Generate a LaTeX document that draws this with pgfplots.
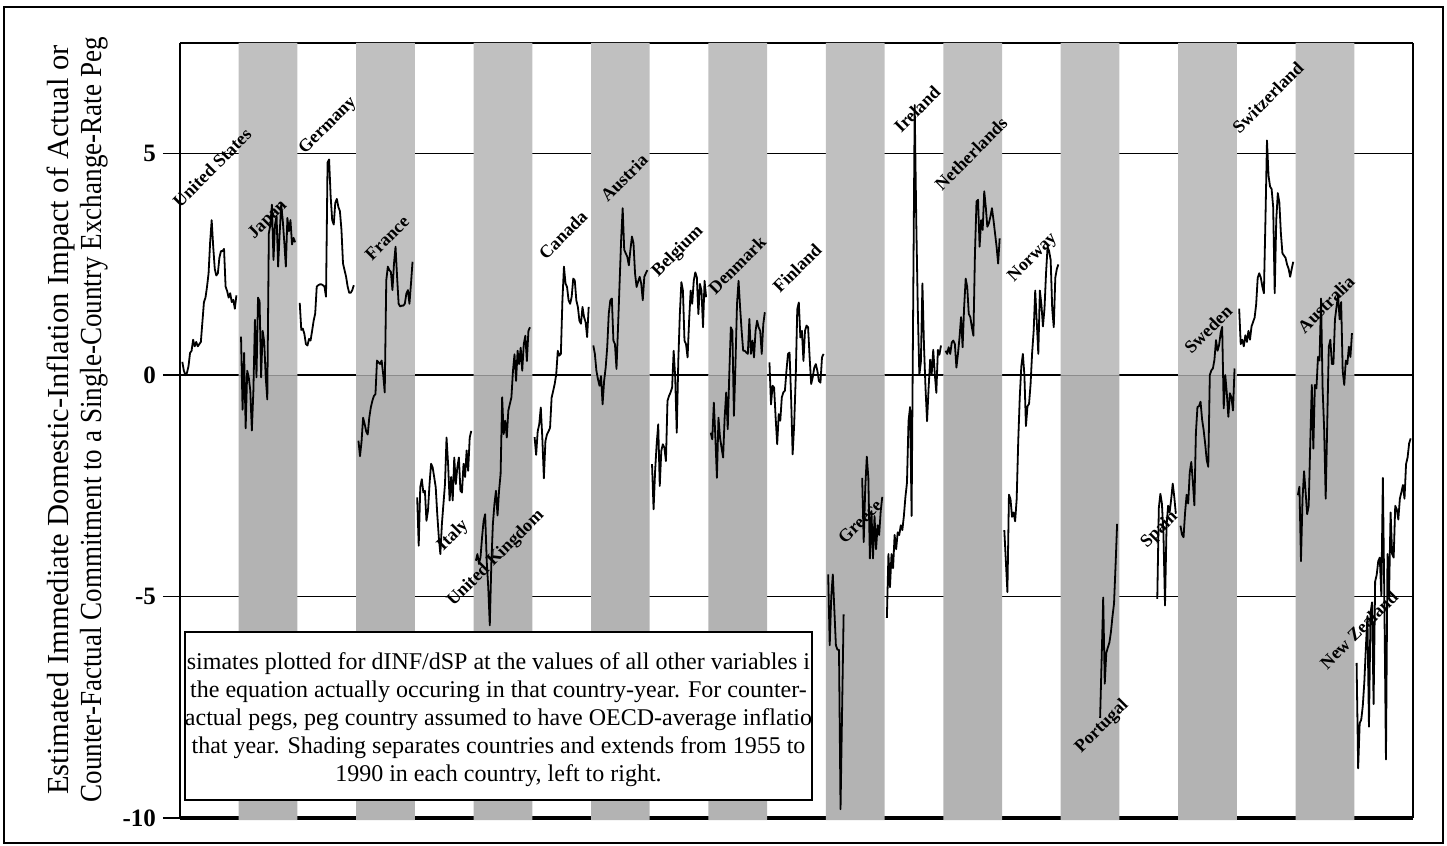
\documentclass[border=0pt]{standalone}
\usepackage{pgfplots}
\pgfplotsset{compat=1.18}
\usepackage{pgfplotstable}
\usepackage{fontspec}
\setmainfont{Liberation Serif}
\definecolor{stripeU}{RGB}{192,192,192}
\definecolor{stripeL}{RGB}{179,179,179}
\definecolor{zline}{RGB}{140,140,140}
\tikzset{lab/.style={rotate=45, font=\bfseries\fontsize{9}{9}\selectfont, inner sep=0pt}}

\pgfplotstableread{
year US JP DE FR IT UK CA AT BE DK FI GR IE NL NO PT ES SE CH AU NZ
1955 0.3 0.87 1.63 -1.48 -2.76 -4.19 -1.4 0.67 -2.01 -1.3 0.29 -4.5 -5.48 0.55 -3.5 nan nan -3.4 1.5 -2.71 -6.5
1956 0.1 -0.78 1.02 -1.83 -3.85 -4.04 -1.8 0.48 -3.03 -1.45 -0.66 -6.1 -4.04 0.48 -4.2 nan nan -3.6 0.7 -2.52 -8.88
1957 0.0 0.5 1.05 -1.5 -2.53 -4.26 -1.27 0.1 -2.16 -0.62 -0.24 -5.0 -4.79 0.63 -4.9 nan nan -3.66 0.8 -4.2 -7.86
1958 0.05 -1.2 0.93 -0.96 -2.35 -4.11 -1.11 -0.09 -1.56 -1.41 -0.28 -4.5 -4.04 0.48 -2.7 nan nan -3.1 0.65 -2.79 -7.78
1959 0.2 0.1 0.7 -1.1 -2.65 -3.66 -0.73 -0.24 -1.11 -2.32 -0.96 -5.3 -4.36 0.74 -2.8 nan nan -2.7 0.9 -2.17 -7.47
1960 0.5 -0.05 0.67 -1.27 -2.61 -3.29 -1.42 -0.02 -2.5 -0.96 -1.56 -6.1 -3.61 0.78 -3.2 nan nan -2.9 0.75 -2.64 -6.93
1961 0.55 -0.35 0.82 -1.34 -3.29 -3.14 -2.33 -0.66 -1.71 -1.41 -0.88 -6.2 -3.93 0.7 -3.1 nan nan -2.2 1.0 -3.14 -6.15
1962 0.8 -1.25 0.78 -0.96 -3.06 -4.19 -1.49 -0.13 -1.56 -1.64 -1.03 -6.2 -3.55 0.17 -3.3 nan nan -1.96 0.8 -2.95 -5.44
1963 0.65 -0.35 1.0 -0.73 -2.46 -4.79 -1.34 0.17 -1.64 -1.86 -0.5 -9.8 -3.61 0.48 -2.8 nan nan -2.4 1.1 -1.54 -7.94
1964 0.75 1.25 1.23 -0.58 -2.0 -5.65 -1.27 0.63 -1.94 -0.96 -0.39 -7.6 -3.39 0.85 -1.5 nan nan -2.94 1.2 -0.22 -5.37
1965 0.65 -0.05 1.39 -0.47 -2.08 -4.26 -1.19 1.39 -0.58 -0.39 -0.35 -5.4 -3.5 1.31 -0.5 nan nan -1.3 1.3 -1.66 -5.13
1966 0.7 1.75 2.0 -0.43 -2.3 -3.36 -0.51 1.69 -0.47 -1.22 0.1 nan -3.18 0.63 0.2 nan nan -0.72 1.6 -0.22 -7.43
1967 0.75 1.67 2.03 0.33 -2.53 -2.91 -0.36 1.73 -0.39 0.02 0.48 nan -2.75 1.54 0.48 nan nan -0.7 2.2 -0.3 -4.66
1968 1.2 -0.05 2.05 0.29 -3.14 -2.61 -0.2 0.78 -0.28 1.08 0.51 nan -2.43 2.18 0.0 nan nan -0.6 2.3 0.41 -4.51
1969 1.65 1.0 2.05 0.25 -3.66 -3.17 0.02 0.7 0.55 1.0 -0.5 nan -1.04 1.99 -1.15 nan nan -1.0 2.2 0.33 -4.2
1970 1.75 0.75 2.03 0.33 -4.04 -2.61 0.55 0.14 -0.05 -0.92 -1.79 nan -0.72 1.38 -0.7 nan nan -1.24 2.0 1.73 -4.12
1971 2.0 -0.05 2.0 0.02 -3.36 -2.23 0.44 1.08 -1.3 0.25 -1.11 nan -3.18 1.31 -0.65 nan nan -1.55 1.85 -0.3 -4.98
1972 2.3 -0.55 1.77 -0.39 -2.91 -0.5 0.48 2.07 0.32 1.61 -0.05 nan 1.5 1.08 -0.2 nan nan -1.92 3.5 -1.23 -2.32
1973 3.0 3.2 4.8 2.14 -2.46 -1.33 1.69 3.05 1.38 2.13 1.49 nan 6.1 0.89 0.5 nan nan -2.07 5.3 -2.79 -5.21
1974 3.5 3.4 4.87 2.45 -1.41 -1.03 2.45 3.77 2.1 1.53 1.64 nan 3.5 2.75 1.0 nan nan 0.0 4.5 -1.08 -8.68
1975 2.9 3.85 4.04 2.37 -2.0 -1.41 2.07 2.83 1.91 1.0 0.85 nan 1.5 3.92 1.91 nan nan 0.11 4.26 0.64 -4.04
1976 2.4 2.6 3.5 2.33 -2.83 -0.8 1.99 2.75 0.78 0.55 1.0 nan 0.0 3.96 1.2 nan nan 0.15 4.2 0.8 -4.98
1977 2.25 3.4 3.4 1.92 -2.3 -0.65 1.69 2.67 0.7 0.55 0.32 -2.32 0.3 2.9 0.48 nan nan 0.35 3.8 0.25 -3.1
1978 2.3 3.6 3.89 2.52 -2.83 -0.5 1.61 2.48 0.4 0.51 1.0 -3.77 2.07 3.5 1.91 nan -5.05 0.79 1.85 0.25 -4.04
1979 2.65 2.45 3.98 2.9 -1.86 0.1 1.77 2.83 1.23 0.48 1.12 -2.54 0.67 3.28 1.6 -7.74 -3.0 0.55 3.5 1.26 -4.12
1980 2.8 3.2 3.8 2.22 -2.46 0.47 2.18 3.13 1.91 1.27 1.08 -1.84 -0.29 4.15 1.1 -6.4 -2.68 0.68 4.11 1.54 -2.95
1981 2.8 3.85 3.7 1.61 -2.08 -0.13 2.14 2.98 1.61 0.48 0.4 -2.32 -1.04 3.8 1.5 -5.02 -2.9 0.95 3.9 1.81 -3.03
1982 2.85 3.5 3.28 1.55 -1.86 0.55 1.69 2.3 2.13 0.78 -0.2 -4.14 -0.29 3.35 2.3 -6.97 -3.6 1.09 3.2 1.26 -3.26
1983 2.0 3.0 2.52 1.57 -2.61 0.25 1.54 1.99 2.32 0.4 -0.05 -3.07 0.35 3.43 2.9 -6.27 -5.2 -0.75 2.75 1.65 -2.79
1984 1.9 2.45 2.37 1.57 -2.65 0.62 1.23 2.11 2.21 1.0 0.17 -4.14 0.03 3.58 2.8 -6.15 -3.4 0.0 2.7 0.09 -2.64
1985 1.75 3.55 2.22 1.61 -2.0 0.1 1.16 2.22 1.38 1.23 0.25 -3.18 0.57 3.77 2.6 -6.04 -2.95 -0.41 2.65 -0.22 -2.48
1986 1.85 3.25 2.0 1.84 -2.3 0.7 1.54 2.07 2.06 1.08 0.1 -3.93 0.03 3.5 1.5 -5.8 -3.1 -0.94 2.5 0.33 -2.79
1987 1.65 3.5 1.86 1.92 -1.7 0.89 1.31 1.69 1.91 1.0 -0.13 -3.39 -0.4 3.2 1.08 -5.45 -2.8 -0.41 2.4 0.25 -2.01
1988 1.7 2.95 1.86 1.61 -2.16 0.32 1.2 2.22 1.08 0.48 -0.17 -3.61 0.57 2.9 2.2 -5.16 -2.45 -0.5 2.22 0.64 -1.86
1989 1.5 3.1 1.92 2.07 -1.41 1.0 0.86 2.3 2.13 1.15 0.4 -3.07 0.46 2.52 2.4 -4.3 -2.75 -0.8 2.4 0.41 -1.54
1990 1.8 3.0 2.03 2.56 -1.26 1.08 1.54 2.37 1.76 1.42 0.48 -2.75 0.67 3.09 2.5 -3.36 -3.13 0.15 2.56 0.95 -1.43
}\data

% country series: column, x position of 1955 (38 slots per country)
\newcommand\cty[2]{\addplot[black, line width=0.9pt, line join=round] table[x expr={#2+\thisrow{year}-1955}, y=#1]{\data};}

\begin{document}
\begin{tikzpicture}[x=1pt,y=1pt]
\useasboundingbox (0,0) rectangle (723.5,423);
\draw[line width=0.75pt] (2,1.5) rectangle (721.5,419.5);
\begin{axis}[
  at={(90pt,14pt)}, anchor=south west,
  scale only axis, width=616.5pt, height=387.5pt,
  xmin=0, xmax=798, ymin=-10, ymax=7.5,
  axis x line=none,
  xtick=\empty,
  ytick={-10,-5,0,5}, yticklabels={-10,-5,0,5},
  yticklabel style={font=\bfseries\fontsize{12.5}{12.5}\selectfont},
  ytick pos=left,
  tick align=outside,
  major tick length=8.5pt,
  every tick/.style={black, line width=0.75pt},
  ymajorgrids,
  grid style={black, line width=0.75pt},
  axis line style={black, line width=1pt},
  unbounded coords=jump,
  clip=false,
]
% frame lines at top and bottom (covered by the shading, as in the original)
\addplot[black, line width=1.8pt] coordinates {(0,-10) (798,-10)};
\addplot[black, line width=1pt] coordinates {(0,7.5) (798,7.5)};
% shading: one stripe per even-numbered country
\addplot[ybar, bar width=38, bar shift=0pt, fill=stripeU, draw=none]
  coordinates {(57,7.5) (133,7.5) (209,7.5) (285,7.5) (361,7.5) (437,7.5) (513,7.5) (589,7.5) (665,7.5) (741,7.5)};
\addplot[ybar, bar width=38, bar shift=0pt, fill=stripeL, draw=none]
  coordinates {(57,-10.05) (133,-10.05) (209,-10.05) (285,-10.05) (361,-10.05) (437,-10.05) (513,-10.05) (589,-10.05) (665,-10.05) (741,-10.05)};
\addplot[zline, line width=0.6pt] coordinates {(38,0) (76,0) (76.5,nan) (114,0) (152,0) (152.5,nan) (190,0) (228,0) (228.5,nan) (266,0) (304,0) (304.5,nan) (342,0) (380,0) (380.5,nan) (418,0) (456,0) (456.5,nan) (494,0) (532,0) (532.5,nan) (570,0) (608,0) (608.5,nan) (646,0) (684,0) (684.5,nan) (722,0) (760,0)};
\cty{US}{1.5}
\cty{JP}{39.5}
\cty{DE}{77.5}
\cty{FR}{115.5}
\cty{IT}{153.5}
\cty{UK}{191.5}
\cty{CA}{229.5}
\cty{AT}{267.5}
\cty{BE}{305.5}
\cty{DK}{343.5}
\cty{FI}{381.5}
\cty{GR}{419.5}
\cty{IE}{457.5}
\cty{NL}{495.5}
\cty{NO}{533.5}
\cty{PT}{571.5}
\cty{ES}{609.5}
\cty{SE}{647.5}
\cty{CH}{685.5}
\cty{AU}{723.5}
\cty{NZ}{761.5}
\node[lab] at (axis cs:20.7,4.68) {United States};
\node[lab] at (axis cs:57,3.5) {Japan};
\node[lab] at (axis cs:95.8,5.63) {Germany};
\node[lab] at (axis cs:134,3.1) {France};
\node[lab] at (axis cs:176.7,-3.62) {Italy};
\node[lab] at (axis cs:204.5,-4.14) {United Kingdom};
\node[lab] at (axis cs:247.9,3.17) {Canada};
\node[lab] at (axis cs:287.4,4.46) {Austria};
\node[lab] at (axis cs:322.3,2.79) {Belgium};
\node[lab] at (axis cs:360.5,2.49) {Denmark};
\node[lab] at (axis cs:399.4,2.42) {Finland};
\node[lab] at (axis cs:440,-3.3) {Greece};
\node[lab] at (axis cs:477,6.0) {Ireland};
\node[lab] at (axis cs:512,5.0) {Netherlands};
\node[lab] at (axis cs:552,2.65) {Norway};
\node[lab] at (axis cs:596.8,-7.94) {Portugal};
\node[lab] at (axis cs:634,-3.5) {Spain};
\node[lab] at (axis cs:665.4,1.04) {Sweden};
\node[lab] at (axis cs:704,6.27) {Switzerland};
\node[lab] at (axis cs:741.7,1.6) {Australia};
\node[lab] at (axis cs:763,-5.75) {New Zealand};
\end{axis}
\node[rotate=90, align=center, font=\fontsize{15.3}{16.8}\selectfont] at (38.75,213)
  {Estimated Immediate Domestic-Inflation Impact of Actual or\\\scalebox{0.885}[1]{Counter-Factual Commitment to a Single-Country Exchange-Rate Peg}};
\fill[white] (92.5,23) rectangle (406,107);
\begin{scope}
\clip (92.5,23) rectangle (406,107);
\node[align=center, font=\fontsize{12}{14}\selectfont, inner sep=0pt] at (249.25,63)
  {simates plotted for dINF/dSP at the values of all other variables i\\
   the equation actually occuring in that country-year. For counter-\\
   actual pegs, peg country assumed to have OECD-average inflatio\\
   that year. Shading separates countries and extends from 1955 to\\
   1990 in each country, left to right.};
\end{scope}
\draw[line width=0.75pt] (92.5,23) rectangle (406,107);
\end{tikzpicture}
\end{document}
